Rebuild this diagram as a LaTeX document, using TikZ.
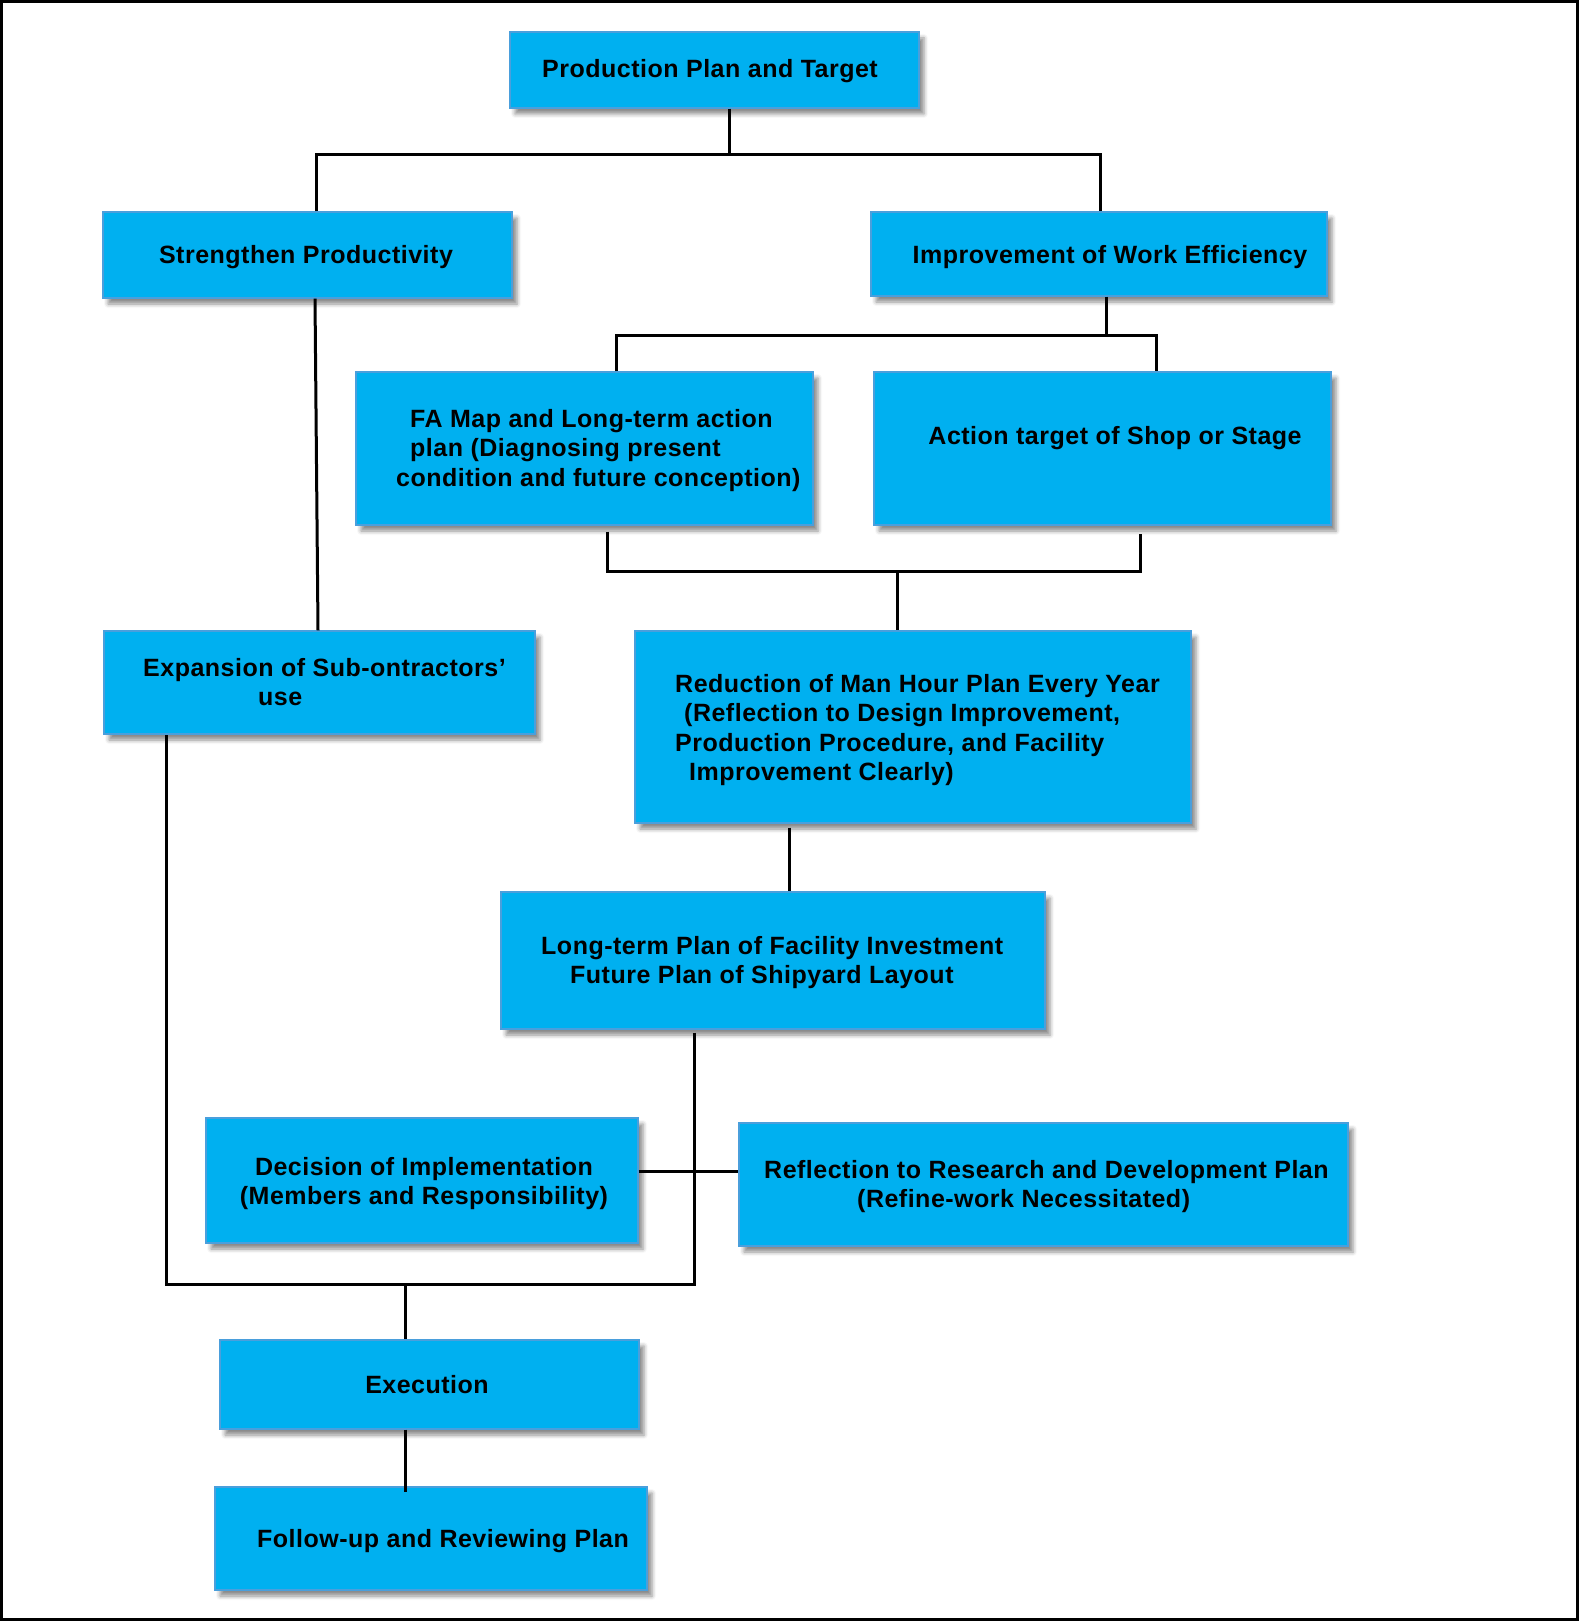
\documentclass[tikz,border=0pt]{standalone}
\usepackage{fontspec}
\setmainfont{Liberation Sans}
\newfontfamily\boxfont[LetterSpace=2]{Liberation Sans}
\usetikzlibrary{shadows.blur,calc}
\definecolor{boxfill}{HTML}{00B0F0}
\definecolor{boxedge}{HTML}{4A9FDC}
\tikzset{
  box/.style={rectangle, fill=boxfill, draw=boxedge, line width=1.2pt, inner sep=0pt,
    blur shadow={shadow xshift=5pt, shadow yshift=-6pt, shadow blur radius=4pt, shadow opacity=45}},
  txt/.style={inner sep=0pt, font=\boxfont\bfseries\fontsize{25}{29.5}\selectfont, text=black},
  conn/.style={draw=black, line width=3pt},
}
\begin{document}
\begin{tikzpicture}[x=1pt,y=-1pt]
\useasboundingbox (0,0) rectangle (1580,1621);
\draw[line width=3pt] (1.5,1.5) rectangle (1577.5,1619.5);

% boxes
\node[box, minimum width=409pt, minimum height=76pt]  (prod)     at (714.5,70)   {};
\node[box, minimum width=409pt, minimum height=86pt]  (strength) at (307.5,255)  {};
\node[box, minimum width=456pt, minimum height=84pt]  (improve)  at (1099,254)   {};
\node[box, minimum width=457pt, minimum height=153pt] (fa)       at (584.5,448.5) {};
\node[box, minimum width=457pt, minimum height=153pt] (action)   at (1102.5,448.5) {};
\node[box, minimum width=431pt, minimum height=103pt] (expand)   at (319.5,682.5) {};
\node[box, minimum width=556pt, minimum height=192pt] (reduce)   at (913,727)    {};
\node[box, minimum width=544pt, minimum height=137pt] (longterm) at (773,960.5)  {};
\node[box, minimum width=432pt, minimum height=125pt] (decision) at (422,1180.5) {};
\node[box, minimum width=609pt, minimum height=123pt] (reflect)  at (1043.5,1184.5) {};
\node[box, minimum width=419pt, minimum height=89pt]  (exec)     at (429.5,1384.5) {};
\node[box, minimum width=432pt, minimum height=103pt] (follow)   at (431,1538.5) {};

% connectors
\coordinate (pj) at (729,155);
\coordinate (pl) at (316,155);
\coordinate (pr) at (1100,155);
\draw[conn] (prod.south -| pj) -- (pj);
\draw[conn] (pl |- strength.north) -- (pl) -- (pr) -- (pr |- improve.north);

\coordinate (ij) at (1106,335);
\coordinate (il) at (616,335);
\coordinate (ir) at (1156,335);
\draw[conn] (improve.south -| ij) -- (ij);
\draw[conn] (il |- fa.north) -- (il) -- (ir) -- (ir |- action.north);

\coordinate (fl) at (607,571);
\coordinate (fr) at (1140,571);
\coordinate (fj) at (897,571);
\draw[conn] ($(fa.south -| fl)+(0,6)$) -- (fl) -- (fr) -- ($(action.south -| fr)+(0,8)$);
\draw[conn] (fj) -- (reduce.north -| fj);

\draw[conn] ($(strength.south)+(7.5,0)$) -- ($(expand.north)+(-1.5,0)$);

\coordinate (rl) at (789,850);
\draw[conn] ($(reduce.south -| rl)+(0,4)$) -- (longterm.north -| rl);

\coordinate (lb) at (694,1284);
\coordinate (eb) at (166,1284);
\coordinate (xb) at (405.6,1284);
\draw[conn] ($(longterm.south -| lb)+(0,3)$) -- (lb) -- (eb) -- (expand.south -| eb);
\draw[conn] (xb) -- (exec.north -| xb);
\draw[conn] (exec.south -| xb) -- ($(follow.north -| xb)+(0,6)$);

\coordinate (dh) at (700,1171);
\draw[conn] (decision.east |- dh) -- (reflect.west |- dh);

% texts
\node[txt, anchor=base] (tprod) at (710,78) {Production Plan and Target};
\node[txt, anchor=base] (tstrength) at (306,264) {Strengthen Productivity};
\node[txt, anchor=base] (timprove) at (1110,263) {Improvement of Work Efficiency};
\node[txt, anchor=north west, align=left] (tfa) at (396,407)
  {\rule{0pt}{20pt}\hspace*{14pt}FA Map and Long-term action\\
   \hspace*{14pt}plan (Diagnosing present\\
   condition and future conception)};
\node[txt, anchor=base] (taction) at (1115,444) {Action target of Shop or Stage};
\node[txt, anchor=north west, align=left] (texpand) at (143,656)
  {\rule{0pt}{20pt}Expansion of Sub-ontractors’\\
   \hspace*{115pt}use};
\node[txt, anchor=north west, align=left] (treduce) at (675,672)
  {\rule{0pt}{20pt}Reduction of Man Hour Plan Every Year\\
   \hspace*{9pt}(Reflection to Design Improvement,\\
   Production Procedure, and Facility\\
   \hspace*{14pt}Improvement Clearly)};
\node[txt, anchor=north west, align=left] (tlong) at (541,934)
  {\rule{0pt}{20pt}Long-term Plan of Facility Investment\\
   \hspace*{29pt}Future Plan of Shipyard Layout};
\node[txt, anchor=north, align=center] (tdecision) at (424,1155)
  {\rule{0pt}{20pt}Decision of Implementation\\
   (Members and Responsibility)};
\node[txt, anchor=north west, align=left] (treflect) at (764,1158)
  {\rule{0pt}{20pt}Reflection to Research and Development Plan\\
   \hspace*{93pt}(Refine-work Necessitated)};
\node[txt, anchor=base] (texec) at (427,1393) {Execution};
\node[txt, anchor=base] (tfollow) at (443,1547) {Follow-up and Reviewing Plan};
\end{tikzpicture}
\end{document}
